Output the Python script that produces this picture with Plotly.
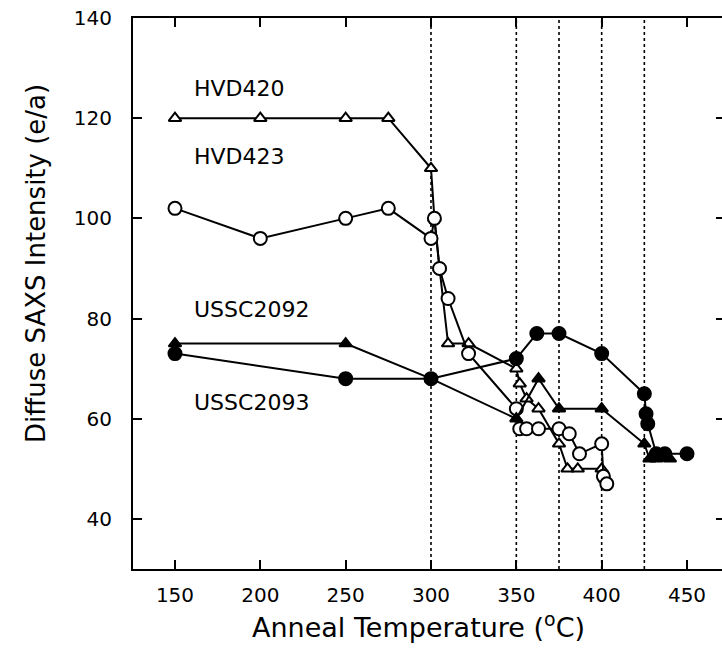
import plotly.graph_objects as go

# Anneal temperature (deg C) and diffuse SAXS intensity (e/a) for each sample
temp_hvd420 = [150, 200, 250, 275, 300, 302, 305, 310, 322, 350, 352, 356, 363, 375, 380, 386, 400, 402]
int_hvd420 = [120, 120, 120, 120, 110, 100, 90, 75, 75, 70, 67, 64, 62, 55, 50, 50, 50, 48]

temp_hvd423 = [150, 200, 250, 275, 300, 302, 305, 310, 322, 350, 352, 356, 363, 375, 381, 387, 400, 401, 403]
int_hvd423 = [102, 96, 100, 102, 96, 100, 90, 84, 73, 62, 58, 58, 58, 58, 57, 53, 55, 48.5, 47]

temp_ussc2092 = [150, 250, 300, 350, 363, 375, 400, 425, 428, 432, 440]
int_ussc2092 = [75, 75, 68, 60, 68, 62, 62, 55, 52, 52, 52]

temp_ussc2093 = [150, 250, 300, 350, 362, 375, 400, 425, 426, 427, 432, 437, 450]
int_ussc2093 = [73, 68, 68, 72, 77, 77, 73, 65, 61, 59, 53, 53, 53]

# Anneal steps marked with dotted guides
step_temps = [300, 350, 375, 400, 425]

# Sample names and where they are written
label_names = ["HVD420", "HVD423", "USSC2092", "USSC2093"]
label_x = [188, 188, 195, 195]
label_y = [126, 112.4, 81.8, 63.2]

x_ticks = [150, 200, 250, 300, 350, 400, 450]
y_ticks = [40, 60, 80, 100, 120, 140]

FONT = "DejaVu Sans"
INK = "black"

fig = go.Figure()

for t in step_temps:
    fig.add_vline(x=t, line=dict(color=INK, width=1.6, dash="dot"), layer="below")

series = [
    (temp_hvd420, int_hvd420, "triangle-up", "white", 11),
    (temp_hvd423, int_hvd423, "circle", "white", 13),
    (temp_ussc2092, int_ussc2092, "triangle-up", INK, 11),
    (temp_ussc2093, int_ussc2093, "circle", INK, 13),
]
for (xs, ys, sym, fill, size), name in zip(series, label_names):
    fig.add_trace(go.Scatter(
        x=xs, y=ys, mode="lines+markers", name=name,
        line=dict(color=INK, width=2),
        marker=dict(symbol=sym, size=size, color=fill, line=dict(color=INK, width=2)),
        showlegend=False, hoverinfo="skip",
    ))

# carrier for the right-hand tick marks
fig.add_trace(go.Scatter(x=[None], y=[None], yaxis="y2", showlegend=False, hoverinfo="skip"))

for name, lx, ly in zip(label_names, label_x, label_y):
    fig.add_annotation(x=lx, y=ly, text=name, showarrow=False,
                       font=dict(family=FONT, size=22, color=INK))

fig.add_annotation(xref="paper", yref="paper", x=0.484, y=-0.103,
                   text="Anneal Temperature (<sup>o</sup>C)", showarrow=False,
                   font=dict(family=FONT, size=27, color=INK), yanchor="middle")
fig.add_annotation(xref="paper", yref="paper", x=-0.165, y=0.555,
                   text="Diffuse SAXS Intensity (e/a)", showarrow=False, textangle=-90,
                   font=dict(family=FONT, size=26, color=INK), xanchor="center")

fig.update_layout(
    width=722, height=667,
    margin=dict(l=133, r=0, t=18, b=98),
    paper_bgcolor="white", plot_bgcolor="white",
    font=dict(family=FONT, size=20, color=INK),
    xaxis=dict(range=[125.4, 470.5], tickvals=x_ticks, ticks="inside", ticklen=9,
               tickwidth=2, tickcolor=INK, showline=True, linewidth=2, linecolor=INK,
               mirror="ticks", showgrid=False, zeroline=False, ticklabelstandoff=7,
               tickfont=dict(family=FONT, size=20)),
    yaxis=dict(range=[30, 140], tickvals=y_ticks, ticks="inside", ticklen=9,
               tickwidth=2, tickcolor=INK, showline=True, linewidth=2, linecolor=INK,
               showgrid=False, zeroline=False, ticklabelstandoff=15,
               tickfont=dict(family=FONT, size=20)),
    yaxis2=dict(range=[30, 140], tickvals=y_ticks, overlaying="y", side="right",
                ticks="inside", ticklen=6, tickwidth=2, tickcolor=INK,
                showticklabels=False, showline=False, showgrid=False, zeroline=False),
)

fig.write_html("out.html")
